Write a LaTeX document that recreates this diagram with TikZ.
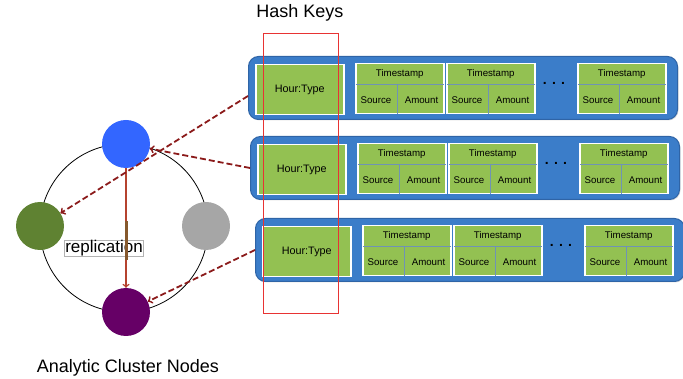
\documentclass[tikz,border=0pt]{standalone}
\usepackage{fontspec}
\setmainfont{Liberation Sans}
\usetikzlibrary{arrows,shapes}
\usetikzlibrary{positioning}
\usetikzlibrary{calc,shadows}

\definecolor{rowblue}{HTML}{3B7DC9}
\definecolor{rowedge}{HTML}{2F64A6}
\definecolor{cellgreen}{HTML}{93C152}
\definecolor{sepline}{HTML}{6F93B5}
\definecolor{nodeblue}{HTML}{3366FF}
\definecolor{nodegreen}{HTML}{5F8232}
\definecolor{nodegray}{HTML}{A6A6A6}
\definecolor{nodepurple}{HTML}{660066}
\definecolor{dashred}{HTML}{8B1A1A}
\definecolor{reparrow}{HTML}{B5432F}
\definecolor{hashred}{HTML}{E83333}

\tikzset{
  row/.style={draw=rowedge, fill=rowblue, line width=1pt, rounded corners=10pt,
    minimum width=429pt, minimum height=63pt, anchor=north west,
    drop shadow={opacity=0.25, shadow xshift=1pt, shadow yshift=-1pt}},
  cell/.style={draw=white, fill=cellgreen, line width=1.5pt, inner sep=0pt,
    minimum width=88pt, minimum height=50pt, anchor=north west},
  sep/.style={sepline, line width=0.6pt},
  small/.style={font=\fontsize{9.7}{10}\selectfont, inner sep=0pt},
  member/.style={circle, minimum size=48pt, inner sep=0pt},
  big/.style={font=\fontsize{18}{18}\selectfont},
  feed/.style={->, dashred, line width=1.8pt, dash pattern=on 6pt off 3pt},
}

\begin{document}
\begin{tikzpicture}[x=1pt,y=-1pt,>=to]
\useasboundingbox (0,0) rectangle (683,379);
% rows of stored records
\foreach \n/\x/\y in {1/248/56, 2/250/136, 3/255/218} {
  \node[row] (row\n) at (\x,\y) {};
  \node[cell, font=\fontsize{10.8}{11}\selectfont] (key\n) at (\x+7,\y+8) {Hour:Type};
  \foreach \i/\o in {1/107, 2/198, 3/329} {
    \node[cell] (t\n\i) at (\x+\o,\y+7) {};
    \node[small] at ($(t\n\i.north)+(0,10.5)$) {Timestamp};
    \draw[sep] ($(t\n\i.north west)+(0.75,21)$) -- ($(t\n\i.north east)+(-0.75,21)$);
    \draw[sep] ($(t\n\i.north west)+(42,21)$) -- ($(t\n\i.south west)+(42,-0.75)$);
    \node[small] at ($(t\n\i.south west)+(21,-14.5)$) {Source};
    \node[small] at ($(t\n\i.south east)+(-23,-14.5)$) {Amount};
  }
  \node[font=\fontsize{14}{14}\selectfont\bfseries, inner sep=0pt] (dots\n) at (\x+306,\y+27) {. . .};
}

% cluster ring
\node[circle, draw, line width=0.8pt, minimum size=168pt, inner sep=0pt] (ring) at (124,228) {};
\node[member, fill=nodeblue] (blue) at (126,144) {};
\node[member, fill=nodegreen] (green) at (40,226) {};
\node[member, fill=nodegray] (gray) at (206,226) {};
\node[member, fill=nodepurple] (purple) at (126,312) {};

\node[draw=gray!60, line width=0.5pt, fill=white, inner xsep=1pt, inner ysep=0pt,
  font=\fontsize{17}{17}\selectfont, anchor=west] (rep) at (64,248) {replication};
\draw[->, reparrow, line width=1.5pt] (blue) -- (purple);
\draw[brown!70!black, line width=3pt] ($(blue)!0.46!(purple)$) -- ($(blue)!0.69!(purple)$);

% hash keys to nodes
\draw[feed] ($(row1.west)+(0,8)$) -- (green);
\draw[feed] (row2.west) -- (blue);
\draw[feed] (row3.west) -- (purple);

\node[draw=hashred, line width=1.2pt, minimum width=75pt, minimum height=280pt,
  anchor=north west, inner sep=0pt] (keys) at (263,33) {};
\node[big] (hash) at (300,13) {Hash Keys};
\node[big] (cluster) at (128,368) {Analytic Cluster Nodes};
\end{tikzpicture}
\end{document}
